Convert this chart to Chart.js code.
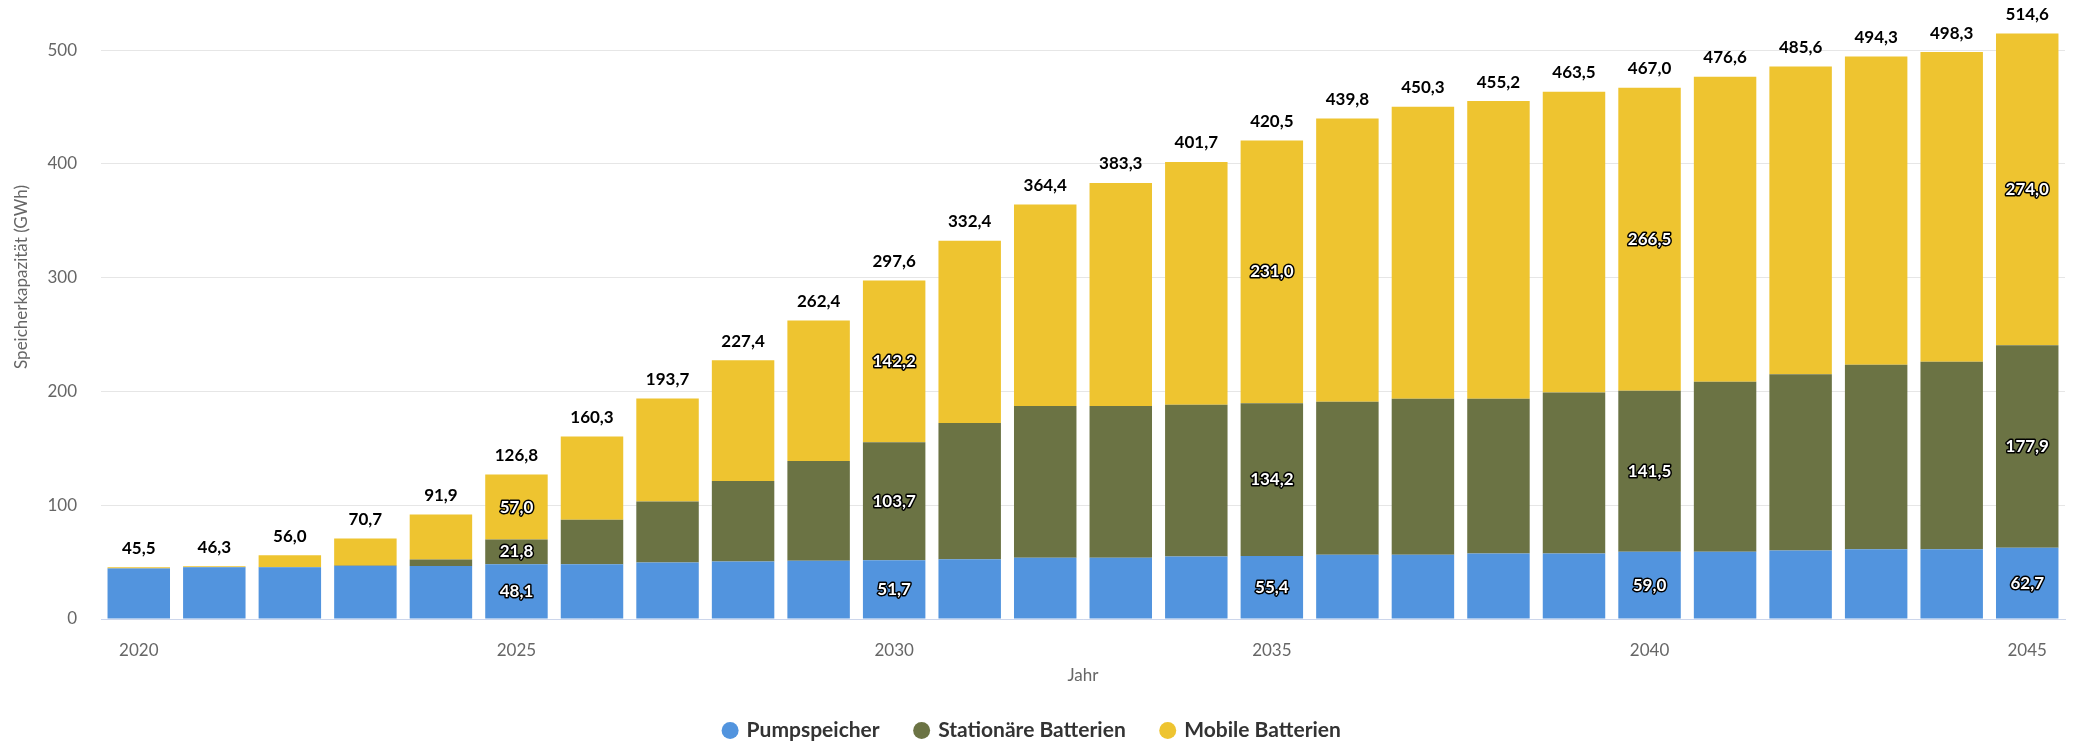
<!DOCTYPE html>
<html lang="de">
<head>
<meta charset="utf-8">
<title>Speicherkapazität</title>
<script src="https://cdn.jsdelivr.net/npm/chart.js@4.4.1/dist/chart.umd.min.js"></script>
<style>
  html, body { margin: 0; padding: 0; background: #fff; }
  #wrap { width: 2074px; height: 743px; position: relative; }
</style>
</head>
<body>
<div id="wrap"><canvas id="chart"></canvas></div>
<script>
const years = [2020, 2021, 2022, 2023, 2024, 2025, 2026, 2027, 2028, 2029, 2030, 2031, 2032,
  2033, 2034, 2035, 2036, 2037, 2038, 2039, 2040, 2041, 2042, 2043, 2044, 2045];

const pumpspeicher = [44.3, 45.4, 45.4, 46.5, 46.5, 48.1, 48.2, 49.6, 50.5, 51.2, 51.7, 52.6, 53.8,
  53.8, 55.0, 55.4, 56.4, 56.4, 57.5, 57.5, 59.0, 59.0, 60.2, 61.3, 61.3, 62.7];

const stationaer = [0.2, 0.3, 0.3, 0.5, 5.7, 21.8, 39.0, 53.7, 70.8, 87.7, 103.7, 119.6, 133.3,
  133.3, 133.4, 134.2, 134.6, 137.2, 136.1, 141.5, 141.5, 149.5, 155.0, 162.1, 164.7, 177.9];

const mobil = [1.0, 0.6, 10.3, 23.7, 39.7, 57.0, 73.1, 90.4, 106.1, 123.5, 142.2, 160.2, 177.3,
  196.2, 213.3, 231.0, 248.8, 256.7, 261.6, 264.5, 266.5, 268.1, 270.4, 270.9, 272.3, 274.0];

const totals = [45.5, 46.3, 56.0, 70.7, 91.9, 126.8, 160.3, 193.7, 227.4, 262.4, 297.6, 332.4, 364.4,
  383.3, 401.7, 420.5, 439.8, 450.3, 455.2, 463.5, 467.0, 476.6, 485.6, 494.3, 498.3, 514.6];

// years whose segments carry their own value labels
const labelledYears = [2025, 2030, 2035, 2040, 2045];
const yTicks = [0, 100, 200, 300, 400, 500];

const FONT = "Lato, 'Open Sans', sans-serif";
const fmt = v => v.toFixed(1).replace(".", ",");

const labelPlugin = {
  id: "barLabels",
  afterDatasetsDraw(chart) {
    const ctx = chart.ctx;
    const topMeta = chart.getDatasetMeta(chart.data.datasets.length - 1);
    ctx.save();
    ctx.font = `bold 17px ${FONT}`;
    ctx.textAlign = "center";
    ctx.textBaseline = "middle";

    // totals above each stack
    ctx.fillStyle = "#000";
    totals.forEach((t, i) => {
      const bar = topMeta.data[i];
      ctx.fillText(fmt(t), bar.x, bar.y - 19);
    });

    // outlined values inside the segments
    ctx.lineWidth = 3;
    ctx.lineJoin = "round";
    ctx.strokeStyle = "#000";
    ctx.fillStyle = "#fff";
    years.forEach((yr, i) => {
      if (!labelledYears.includes(yr)) return;
      chart.data.datasets.forEach((ds, d) => {
        const el = chart.getDatasetMeta(d).data[i];
        const cy = (el.y + el.base) / 2;
        const txt = fmt(ds.data[i]);
        ctx.strokeText(txt, el.x, cy);
        ctx.fillText(txt, el.x, cy);
      });
    });
    ctx.restore();
  },
  afterDraw(chart) {
    // y axis title, placed like the original rather than centred on the plot
    const ctx = chart.ctx;
    ctx.save();
    ctx.translate(22, 277);
    ctx.rotate(-Math.PI / 2);
    ctx.font = `17px ${FONT}`;
    ctx.fillStyle = "#666";
    ctx.textAlign = "center";
    ctx.textBaseline = "middle";
    ctx.fillText("Speicherkapazität (GWh)", 0, 0);
    ctx.restore();
  }
};

new Chart(document.getElementById("chart"), {
  type: "bar",
  data: {
    labels: years,
    datasets: [
      { label: "Pumpspeicher", data: pumpspeicher, backgroundColor: "#5294de" },
      { label: "Stationäre Batterien", data: stationaer, backgroundColor: "#6b7344" },
      { label: "Mobile Batterien", data: mobil, backgroundColor: "#eec430" }
    ]
  },
  options: {
    responsive: true,
    maintainAspectRatio: false,
    animation: false,
    layout: { padding: { top: 8, right: 9, left: 0, bottom: 0 } },
    datasets: {
      bar: { categoryPercentage: 1, barPercentage: 0.827, borderWidth: 0 }
    },
    scales: {
      x: {
        stacked: true,
        grid: { display: false },
        border: { display: true, color: "#ccd6eb", width: 1 },
        ticks: {
          autoSkip: false,
          maxRotation: 0,
          padding: 15,
          color: "#666",
          font: { family: FONT, size: 17, lineHeight: 1 },
          callback: function (value) {
            const y = years[value];
            return y % 5 === 0 ? String(y) : "";
          }
        },
        title: {
          display: true,
          text: "Jahr",
          color: "#666",
          font: { family: FONT, size: 17, lineHeight: 1 },
          padding: { top: 0, bottom: 0 }
        },
        afterFit: scale => { scale.height = 65; }
      },
      y: {
        stacked: true,
        min: 0,
        max: 537,
        border: { display: false },
        grid: { color: "#e6e6e6", lineWidth: 1, drawTicks: false },
        ticks: {
          padding: 24,
          color: "#666",
          font: { family: FONT, size: 17 },
          callback: v => String(v)
        },
        afterBuildTicks: scale => {
          scale.ticks = yTicks.map(v => ({ value: v }));
        },
        afterFit: scale => {
          scale.width = 101;
          scale.paddingTop = 0;
          scale.paddingBottom = 0;
        }
      }
    },
    plugins: {
      legend: {
        position: "bottom",
        maxHeight: 59,
        labels: {
          usePointStyle: true,
          pointStyle: "circle",
          boxWidth: 12,
          boxHeight: 12,
          padding: 36,
          color: "#333",
          font: { family: FONT, size: 21, weight: "bold" }
        }
      },
      tooltip: { enabled: false }
    }
  },
  plugins: [labelPlugin]
});
</script>
</body>
</html>
